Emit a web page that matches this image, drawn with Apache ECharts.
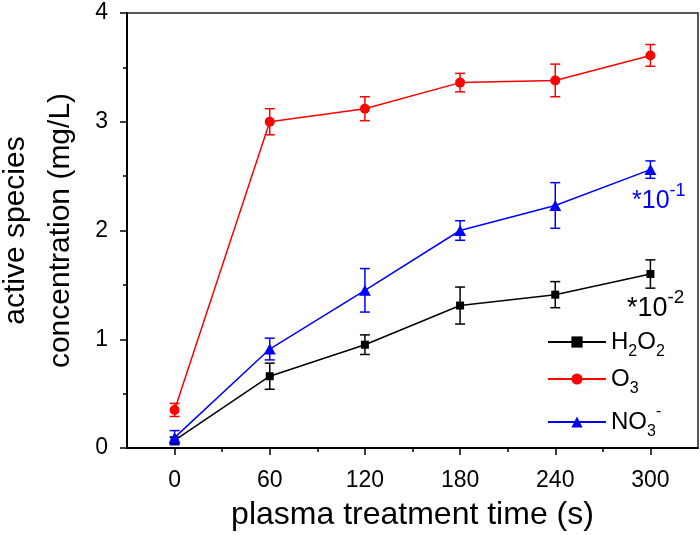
<!DOCTYPE html>
<html>
<head>
<meta charset="utf-8">
<script src="https://cdn.jsdelivr.net/npm/echarts@6/dist/echarts.min.js"></script>
<style>
  html, body { margin: 0; padding: 0; background: #fff; }
  #main { width: 700px; height: 535px; }
</style>
</head>
<body>
<div id="main"></div>
<script>
// treatment times (s)
var times = [0, 60, 120, 180, 240, 300];
var majorTicks = [0, 60, 120, 180, 240, 300];
var minorTicks = [30, 90, 150, 210, 270];

// H2O2 (*10^-2), O3, NO3- (*10^-1)
var h2o2 = [0.07, 0.66, 0.95, 1.31, 1.41, 1.60];
var h2o2Err = [0.03, 0.12, 0.09, 0.17, 0.12, 0.13];
var o3 = [0.35, 3.00, 3.12, 3.36, 3.38, 3.61];
var o3Err = [0.06, 0.12, 0.11, 0.085, 0.15, 0.10];
var no3 = [0.095, 0.91, 1.45, 2.00, 2.23, 2.56];
var no3Err = [0.065, 0.10, 0.20, 0.09, 0.21, 0.08];

var font = 'Liberation Sans, Arial, sans-serif';

function pts(ys) {
    return times.map(function (t, i) { return [t, ys[i]]; });
}
function errRows(ys, es) {
    return times.map(function (t, i) { return [t, ys[i] - es[i], ys[i] + es[i]]; });
}
//误差棒
function errSeries(ys, es, color) {
    return {
        type: 'custom',
        data: errRows(ys, es),
        encode: { x: 0, y: [1, 2] },
        silent: true,
        z: 3,
        renderItem: function (params, api) {
            var x = api.value(0);
            var lo = api.coord([x, api.value(1)]);
            var hi = api.coord([x, api.value(2)]);
            var w = 5;
            var st = { stroke: color, lineWidth: 1.5, fill: null };
            return {
                type: 'group',
                children: [
                    { type: 'line', shape: { x1: lo[0], y1: lo[1], x2: hi[0], y2: hi[1] }, style: st },
                    { type: 'line', shape: { x1: lo[0] - w, y1: lo[1], x2: lo[0] + w, y2: lo[1] }, style: st },
                    { type: 'line', shape: { x1: hi[0] - w, y1: hi[1], x2: hi[0] + w, y2: hi[1] }, style: st }
                ]
            };
        }
    };
}
function lineSeries(name, ys, color, symbol, size) {
    return {
        name: name,
        type: 'line',
        data: pts(ys),
        symbol: symbol,
        symbolSize: size,
        showAllSymbol: true,
        z: 4,
        lineStyle: { color: color, width: 1.5 },
        itemStyle: { color: color }
    };
}

var rich = {
    a: { fontSize: 24, fontFamily: font, color: '#000', lineHeight: 36, verticalAlign: 'middle' },
    s: { fontSize: 16, fontFamily: font, color: '#000', lineHeight: 36, verticalAlign: 'bottom' },
    p: { fontSize: 16, fontFamily: font, color: '#000', lineHeight: 36, verticalAlign: 'top' }
};
var legendText = {
    'H2O2': '{a|H}{s|2}{a|O}{s|2}',
    'O3': '{a|O}{s|3}',
    'NO3-': '{a|NO}{s|3}{p|-}'
};

var chart = echarts.init(document.getElementById('main'));
chart.setOption({
    animation: false,
    backgroundColor: '#fff',
    grid: {
        left: 127, right: 2, top: 13, bottom: 87,
        outerBoundsMode: 'none',
        containLabel: false,
        show: true, borderColor: '#222', borderWidth: 1.5, backgroundColor: 'transparent'
    },
    legend: {
        data: ['H2O2', 'O3', 'NO3-'],
        orient: 'vertical',
        left: 542,
        top: 325,
        itemWidth: 58,
        itemHeight: 14,
        itemGap: 7,
        formatter: function (n) { return legendText[n]; },
        textStyle: { rich: rich, padding: [0, 0, 0, 0] }
    },
    xAxis: [{
        type: 'value',
        min: -30, max: 330,
        position: 'bottom',
        name: 'plasma treatment time (s)',
        nameLocation: 'middle',
        nameGap: 51,
        nameTextStyle: { fontSize: 32, fontFamily: font, color: '#000' },
        axisLine: { show: true, onZero: false, lineStyle: { color: '#000', width: 2 } },
        axisTick: { show: true, length: 7, customValues: majorTicks, lineStyle: { color: '#000', width: 1.5 } },
        axisLabel: { customValues: majorTicks, margin: 21, fontSize: 23, fontFamily: font, color: '#000' },
        splitLine: { show: false }
    }, {
        type: 'value',
        min: -30, max: 330,
        position: 'bottom',
        axisLine: { show: false },
        axisTick: { show: true, length: 4, customValues: minorTicks, lineStyle: { color: '#000', width: 1.5 } },
        axisLabel: { show: false },
        splitLine: { show: false }
    }],
    yAxis: {
        type: 'value',
        min: 0, max: 4, interval: 1,
        name: 'active species\nconcentration (mg/L)',
        nameLocation: 'middle',
        nameRotate: 90,
        nameGap: 44,
        nameTextStyle: { fontSize: 30, fontFamily: font, color: '#000', lineHeight: 45 },
        axisLine: { show: true, onZero: false, lineStyle: { color: '#000', width: 2 } },
        axisTick: { show: true, length: 7, lineStyle: { color: '#000', width: 1.5 } },
        minorTick: { show: true, splitNumber: 2, length: 4, lineStyle: { color: '#000', width: 1.5 } },
        axisLabel: { margin: 19, fontSize: 23, fontFamily: font, color: '#000' },
        splitLine: { show: false }
    },
    graphic: [{
        type: 'text',
        left: 627, top: 288,
        style: {
            text: '{m|*10}{u|-2}',
            rich: {
                m: { fontSize: 27, fontFamily: font, fill: '#000', lineHeight: 34, verticalAlign: 'bottom' },
                u: { fontSize: 19, fontFamily: font, fill: '#000', lineHeight: 34, verticalAlign: 'top' }
            }
        }
    }, {
        type: 'text',
        left: 632, top: 182,
        style: {
            text: '{m|*10}{u|-1}',
            rich: {
                m: { fontSize: 25, fontFamily: font, fill: '#0000ff', lineHeight: 32, verticalAlign: 'bottom' },
                u: { fontSize: 18, fontFamily: font, fill: '#0000ff', lineHeight: 32, verticalAlign: 'top' }
            }
        }
    }],
    series: [
        errSeries(h2o2, h2o2Err, '#000000'),
        errSeries(o3, o3Err, '#ff0000'),
        errSeries(no3, no3Err, '#0000ff'),
        lineSeries('H2O2', h2o2, '#000000', 'rect', 8),
        lineSeries('O3', o3, '#ff0000', 'circle', 10),
        lineSeries('NO3-', no3, '#0000ff', 'triangle', [12, 11])
    ]
});
</script>
</body>
</html>
